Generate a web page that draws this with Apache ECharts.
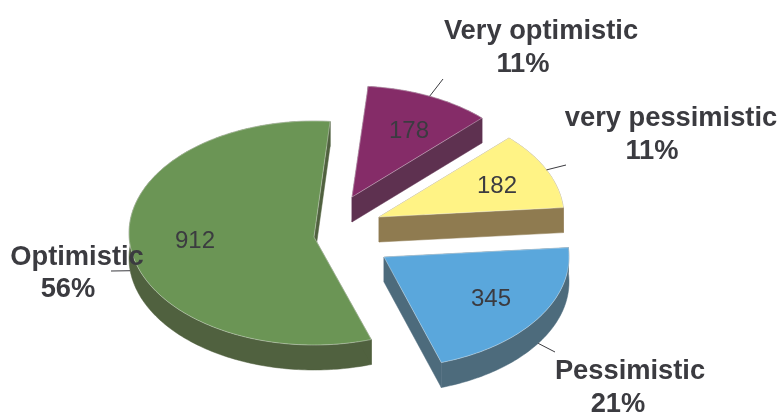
<!DOCTYPE html>
<html>
<head>
<meta charset="utf-8">
<style>
  html, body { margin: 0; padding: 0; background: #fff; }
  #chart { width: 782px; height: 413px; }
</style>
</head>
<body>
<div id="chart"></div>
<script src="https://cdn.jsdelivr.net/npm/echarts@6/dist/echarts.min.js"></script>
<script>
// chart data
const categories = ['Very optimistic', 'very pessimistic', 'Pessimistic', 'Optimistic']
const sliceValues = [178, 182, 345, 912]
const percentLabels = ['11%', '11%', '21%', '56%']

// colours, same order as categories
const topColors = ['#852c68', '#fff385', '#5aa7dc', '#6b9555']
const wallColors = ['#5e3150', '#8f7b50', '#4d6b7c', '#50613f']

// layout of the fake 3d pie: every slice is pulled out to its own apex
const apexes = [[352, 197], [379, 217], [384, 257], [314, 237]]
const centerShiftY = [0, 0, 0, -4]
const radiusX = 185
const radiusY = [111, 111, 111, 112]
const depth = 25
const startDeg = 5

// label positions (the two lines are not centred on each other in the original)
const valuePos = [[409, 131], [497, 186], [491, 299], [195, 241]]
const namePos = [[541, 31], [671, 118], [630, 371], [77, 257]]
const percentPos = [[523, 64], [652, 151], [618, 404], [68, 289]]
const leaderEnd = [[443, 79], [566, 165], [555, 352], [111, 271]]
const textColor = '#3b3b40'
const lineColor = '#3b3b40'

const total = sliceValues.reduce((a, b) => a + b, 0)

// start and end angle of a slice, clockwise from 12 o'clock
function sliceAngles (index) {
  let before = 0
  for (let i = 0; i < index; i++) before += sliceValues[i]
  const from = startDeg + before / total * 360
  return [from, from + sliceValues[index] / total * 360]
}

function rimPoint (index, deg) {
  const rad = deg * Math.PI / 180
  return [
    apexes[index][0] + radiusX * Math.sin(rad),
    apexes[index][1] + centerShiftY[index] - radiusY[index] * Math.cos(rad)
  ]
}

function down (p) {
  return [p[0], p[1] + depth]
}

function renderSlice (params, api) {
  const i = api.value(0)
  const [from, to] = sliceAngles(i)
  const rim = []
  const steps = Math.ceil(to - from)
  for (let s = 0; s <= steps; s++) rim.push(rimPoint(i, from + (to - from) * s / steps))
  const apex = apexes[i]
  const first = rim[0]
  const last = rim[rim.length - 1]
  const wallStyle = { fill: wallColors[i], stroke: wallColors[i], lineWidth: 0.5 }
  return {
    type: 'group',
    children: [
      { type: 'polygon', shape: { points: rim.concat(rim.map(down).reverse()) }, style: wallStyle },
      { type: 'polygon', shape: { points: [apex, first, down(first), down(apex)] }, style: wallStyle },
      { type: 'polygon', shape: { points: [apex, last, down(last), down(apex)] }, style: wallStyle },
      {
        type: 'polygon',
        shape: { points: [apex].concat(rim) },
        style: { fill: topColors[i], stroke: 'rgba(255,255,255,0.45)', lineWidth: 0.8 }
      }
    ]
  }
}

function renderLabel (params, api) {
  const i = api.value(0)
  const [from, to] = sliceAngles(i)
  const mid = (from + to) / 2
  let start = rimPoint(i, mid)
  // on the front half the leader hangs off the bottom of the wall
  if (Math.cos(mid * Math.PI / 180) < 0) start = down(start)
  const bold = 'bold 27.3px "Liberation Sans", Arial, sans-serif'
  const plain = '24px "Liberation Sans", Arial, sans-serif'
  const text = (str, pos, font) => ({
    type: 'text',
    style: {
      text: str,
      x: pos[0],
      y: pos[1],
      fill: textColor,
      font: font,
      align: 'center',
      verticalAlign: 'middle'
    }
  })
  return {
    type: 'group',
    children: [
      {
        type: 'line',
        shape: { x1: start[0], y1: start[1], x2: leaderEnd[i][0], y2: leaderEnd[i][1] },
        style: { stroke: lineColor, lineWidth: 1 }
      },
      text(String(api.value(1)), valuePos[i], plain),
      text(categories[i], namePos[i], bold),
      text(percentLabels[i], percentPos[i], bold)
    ]
  }
}

const seriesData = sliceValues.map((v, i) => [i, v])

const chartInstance = echarts.init(document.getElementById('chart'))
chartInstance.setOption({
  animation: false,
  backgroundColor: '#ffffff',
  series: [
    { type: 'custom', coordinateSystem: 'none', silent: true, z: 2, renderItem: renderSlice, data: seriesData },
    { type: 'custom', coordinateSystem: 'none', silent: true, z: 3, renderItem: renderLabel, data: seriesData }
  ]
})
</script>
</body>
</html>
